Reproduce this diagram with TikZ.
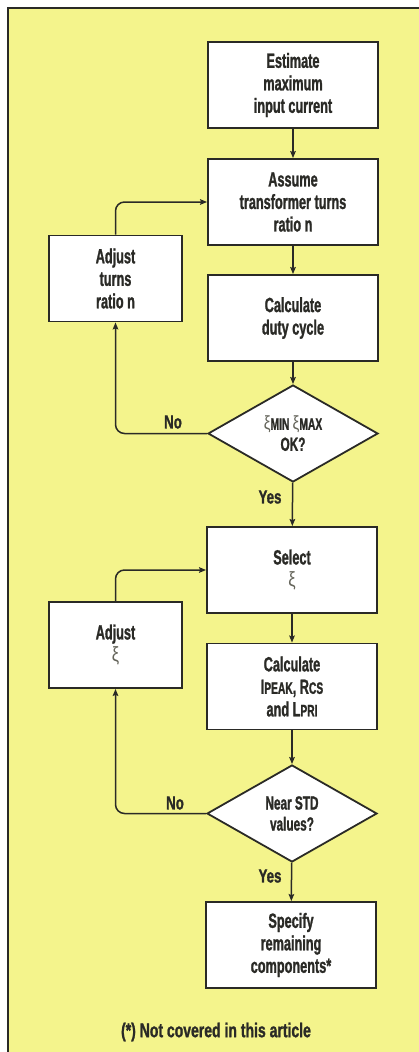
\documentclass[tikz,border=0pt]{standalone}
\usepackage{fontspec}
\usetikzlibrary{arrows.meta,shapes.geometric}
\newfontfamily\cf{Liberation Sans}[FakeStretch=0.62,BoldFeatures={FakeBold=1.2}]
\newfontfamily\lf{Liberation Sans}[FakeStretch=0.7,BoldFeatures={FakeBold=1.2}]
\newfontfamily\gf{Liberation Sans}[FakeStretch=0.8]
\definecolor{bg}{RGB}{244,244,140}
\definecolor{ink}{RGB}{42,42,38}
\definecolor{xig}{RGB}{100,100,90}
\newcommand{\xis}{{\gf\mdseries\color{xig}ξ}}
\newcommand{\sm}[1]{{\fontsize{16.5}{16.5}\selectfont #1}}
\begin{document}
\begin{tikzpicture}[x=1pt,y=-1pt,
  proc/.style={draw=ink,line width=1.8pt,fill=white,minimum width=170pt,minimum height=86pt,inner sep=0pt,align=center,text=ink,font=\cf\bfseries\fontsize{20.5}{22.5}\selectfont},
  adj/.style={proc,minimum width=133pt},
  dec/.style={diamond,aspect=1.75,draw=ink,line width=1.8pt,fill=white,minimum width=170pt,minimum height=97pt,inner sep=0pt,align=center,text=ink,font=\cf\bfseries\fontsize{19}{21}\selectfont},
  lab/.style={text=ink,font=\lf\bfseries\fontsize{19}{19}\selectfont,inner sep=0pt},
  arr/.style={draw=ink,line width=1.5pt,-{Stealth[length=7pt,width=5.5pt,inset=1pt]}},
  fb/.style={arr,rounded corners=9pt}]
\useasboundingbox (0,0) rectangle (419,1052);
\fill[bg] (8,8) rectangle (419,1052);
\draw[ink,line width=1.2pt] (8,1052) -- (8,8) -- (419,8);

\node[proc] (b1) at (293,85) {Estimate\\maximum\\input current};
\node[proc] (b2) at (293,202) {Assume\\transformer turns\\ratio n};
\node[proc] (b3) at (293,318) {Calculate\\duty cycle};
\node[dec] (d1) at (293,433.5) {\xis\sm{MIN} \xis\sm{MAX}\\OK?};
\node[adj] (a1) at (115.5,278.5) {Adjust\\turns\\ratio n};

\node[proc] (b4) at (292,570) {Select\\\xis};
\node[proc] (b5) at (292,686.5) {Calculate\\I\sm{PEAK}, R\sm{CS}\\and L\sm{PRI}};
\node[dec] (d2) at (292,813.5) {Near STD\\values?};
\node[adj] (a2) at (115.5,645) {Adjust\\\xis};
\node[proc] (b6) at (291,945) {Specify\\remaining\\components*};

\node[lab] (no1) at (173,422) {No};
\node[lab] (yes1) at (270,497) {Yes};
\node[lab] (no2) at (175,803) {No};
\node[lab] (yes2) at (270,876) {Yes};
\node[text=ink,font=\lf\bfseries\fontsize{20}{20}\selectfont] (note) at (216,1032) {(*) Not covered in this article};

\draw[arr] (b1) -- (b2);
\draw[arr] (b2) -- (b3);
\draw[arr] (b3) -- (d1);
\draw[arr] (d1) -- (b4);
\draw[arr] (b4) -- (b5);
\draw[arr] (b5) -- (d2);
\draw[arr] (d2) -- (b6);
\draw[fb] (a1.north) |- (b2.west);
\draw[fb] (d1.west) -| (a1.south);
\draw[fb] (a2.north) |- (b4.west);
\draw[fb] (d2.west) -| (a2.south);
\end{tikzpicture}
\end{document}
